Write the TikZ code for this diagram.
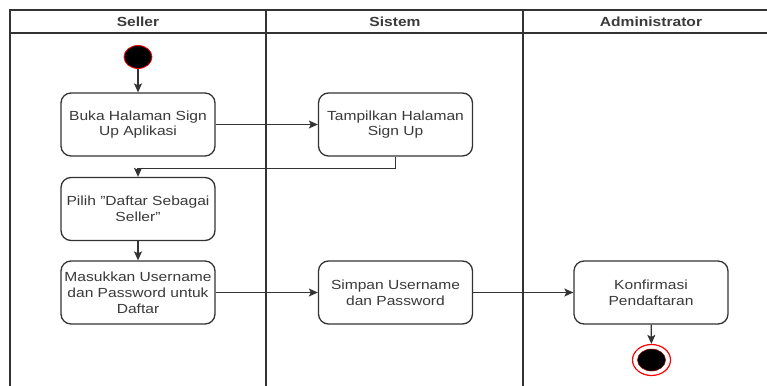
\documentclass[tikz,border=0pt]{standalone}
\usepackage{fontspec}
\setmainfont[FakeStretch=1.18]{Liberation Sans}
\usetikzlibrary{shapes.geometric,arrows.meta}
\definecolor{ln}{HTML}{333333}
\definecolor{tx}{HTML}{3A3A3A}
\begin{document}
\begin{tikzpicture}[x=1pt,y=-1pt,
  lane/.style={draw=ln,line width=1.3pt},
  act/.style={draw=ln,line width=1.3pt,rounded corners=10pt,fill=white,
     minimum width=154pt,minimum height=63pt,align=center,text=tx,
     font=\fontsize{13.2pt}{15.8pt}\selectfont,inner sep=2pt},
  hdr/.style={font=\bfseries\fontsize{13.2pt}{15.8pt}\selectfont,text=tx},
  flow/.style={draw=ln,line width=1.3pt,-{Stealth[length=9pt,width=8pt,inset=2pt]}},
  startst/.style={ellipse,draw=red,line width=0.8pt,fill=black,minimum width=28pt,minimum height=23pt,inner sep=0pt},
  endouter/.style={ellipse,draw=red,line width=1.2pt,fill=white,minimum width=38pt,minimum height=31pt,inner sep=0pt},
  endinner/.style={ellipse,draw=red!60!black,line width=0.5pt,fill=black,minimum width=28pt,minimum height=22pt,inner sep=0pt}]
\useasboundingbox (0,0) rectangle (767,385);
\clip (0,0) rectangle (767,385);
% swimlanes
\draw[lane] (10,400) -- (10,10) -- (790,10);
\draw[lane] (10,33) -- (790,33);
\draw[lane] (266,10) -- (266,400);
\draw[lane] (523,10) -- (523,400);
\node[hdr] (h1) at (138,22) {Seller};
\node[hdr] (h2) at (395,22) {Sistem};
\node[hdr] (h3) at (651,22) {Administrator};
% nodes
\node[startst] (s) at (138,57) {};
\node[act] (a1) at (138,124.5) {Buka Halaman Sign\\Up Aplikasi};
\node[act] (a2) at (395.5,124.5) {Tampilkan Halaman\\Sign Up};
\node[act] (a3) at (138,209) {Pilih \symbol{34}Daftar Sebagai\\Seller\symbol{34}};
\node[act] (a4) at (138,292.5) {Masukkan Username\\dan Password untuk\\Daftar};
\node[act] (a5) at (395.5,292.5) {Simpan Username\\dan Password};
\node[act] (a6) at (651,292.5) {Konfirmasi\\Pendaftaran};
\node[endouter] (e) at (651.5,360) {};
\node[endinner] (ei) at (e.center) {};
% flows
\draw[flow] (s) -- (a1);
\draw[flow] (a1) -- (a2);
\draw[flow] (a2.south) -- ++(0,12) -| (a3.north);
\draw[flow] (a3) -- (a4);
\draw[flow] (a4) -- (a5);
\draw[flow] (a5) -- (a6);
\draw[flow] (a6) -- (e);
\end{tikzpicture}
\end{document}
